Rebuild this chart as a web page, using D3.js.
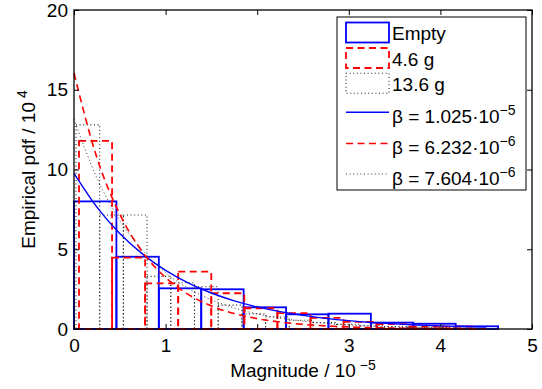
<!DOCTYPE html>
<html><head><meta charset="utf-8">
<script src="https://cdn.jsdelivr.net/npm/d3@7/dist/d3.min.js"></script>
<style>
body{margin:0;background:#fff}
svg{display:block}
text{font-family:"Liberation Sans",Arial,Helvetica,sans-serif;fill:#000}
</style>
</head><body>
<svg id="chart" width="542" height="389"></svg>
<script>
// ---- data ----
const xTicks = [0, 1, 2, 3, 4, 5];
const yTicks = [0, 5, 10, 15, 20];

// histogram bin centres (magnitude / 1e-5) and empirical pdf (/1e4)
const emptyWidth = 0.463;
const emptyCenters = [0.2315, 0.6945, 1.1575, 1.6205, 2.0835, 2.5465, 3.0095, 3.4725, 3.9355, 4.3985];
const emptyPdf = [8.0, 4.53, 2.55, 2.49, 1.36, 0.92, 0.96, 0.40, 0.33, 0.17];

const g46Width = 0.361;
const g46Centers = [0.235, 0.596, 0.957, 1.318, 1.679, 2.040, 2.401, 2.762, 3.123, 3.484, 3.845, 4.206];
const g46Pdf = [11.8, 4.47, 2.86, 3.6, 2.24, 1.3, 1.0, 0.7, 0.45, 0.3, 0.15, 0.15];

const g136Width = 0.2587;
const g136Centers = [0.151, 0.410, 0.668, 0.927, 1.186, 1.445, 1.703, 1.962, 2.221, 2.480, 2.738, 2.997, 3.256, 3.514, 3.773, 4.032, 4.291];
const g136Pdf = [12.8, 7.15, 7.15, 3.3, 2.9, 2.65, 1.5, 0.95, 0.75, 0.55, 0.4, 0.3, 0.2, 0.15, 0.12, 0.08, 0.05];

// fitted exponential pdf curves
const fitX = [0, 0.25, 0.5, 0.75, 1.0, 1.25, 1.5, 1.75, 2.0, 2.25, 2.5, 2.75, 3.0, 3.25, 3.5, 3.75, 4.0, 4.25, 4.5];
const fitEmpty = [9.756, 7.644, 5.989, 4.693, 3.677, 2.881, 2.257, 1.768, 1.386, 1.086, 0.851, 0.666, 0.522, 0.409, 0.321, 0.251, 0.197, 0.154, 0.121];
const fit46 = [16.046, 10.743, 7.193, 4.815, 3.224, 2.158, 1.445, 0.967, 0.648, 0.434, 0.290, 0.194, 0.130, 0.087, 0.058, 0.039, 0.026, 0.017, 0.012];
const fit136 = [13.151, 9.466, 6.814, 4.905, 3.530, 2.541, 1.829, 1.317, 0.948, 0.682, 0.491, 0.353, 0.254, 0.183, 0.132, 0.095, 0.068, 0.049, 0.035];

const histLabels = ["Empty", "4.6 g", "13.6 g"];
const betaMantissa = ["1.025", "6.232", "7.604"];
const betaExponent = ["\u22125", "\u22126", "\u22126"];

// ---- styles ----
const BLUE = "#0000ff", RED = "#ff0000", DOT = "#222";
const styles = [
  {stroke: BLUE, width: 1.8, dash: null},
  {stroke: RED, width: 1.8, dash: "7,4.5"},
  {stroke: DOT, width: 1.1, dash: "1,2.6"}
];

const W = 542, H = 389;
const m = {l: 74, r: 10, t: 10, b: 60};
const svg = d3.select("#chart");
const x = d3.scaleLinear().domain([0, 5]).range([m.l, W - m.r]);
const y = d3.scaleLinear().domain([0, 20]).range([H - m.b, m.t]);

const plot = svg.append("g");

// histograms
const hists = [
  {c: emptyCenters, v: emptyPdf, w: emptyWidth},
  {c: g46Centers, v: g46Pdf, w: g46Width},
  {c: g136Centers, v: g136Pdf, w: g136Width}
];
hists.forEach((h, i) => {
  const st = styles[i];
  plot.append("g").selectAll("rect")
    .data(h.c.map((c, k) => ({c, v: h.v[k]})))
    .join("rect")
    .attr("x", d => x(d.c - h.w / 2))
    .attr("y", d => y(d.v))
    .attr("width", d => x(d.c + h.w / 2) - x(d.c - h.w / 2))
    .attr("height", d => y(0) - y(d.v))
    .attr("fill", "none")
    .attr("stroke", st.stroke)
    .attr("stroke-width", st.width)
    .attr("stroke-dasharray", st.dash);
});

// fitted curves
const fits = [fitEmpty, fit46, fit136];
const line = d3.line().x(d => x(d[0])).y(d => y(d[1])).curve(d3.curveMonotoneX);
fits.forEach((f, i) => {
  const st = styles[i];
  plot.append("path")
    .datum(fitX.map((xv, k) => [xv, f[k]]))
    .attr("d", line)
    .attr("fill", "none")
    .attr("stroke", st.stroke)
    .attr("stroke-width", i === 0 ? 1.4 : st.width - 0.2)
    .attr("stroke-dasharray", st.dash);
});

// axes (ticks inward on all four sides)
const fs = 19;
const xAxis = svg.append("g").attr("transform", `translate(0,${y(0)})`)
  .call(d3.axisBottom(x).tickValues(xTicks).tickSizeInner(-5).tickSizeOuter(0).tickPadding(10).tickFormat(d3.format("d")));
const yAxis = svg.append("g").attr("transform", `translate(${x(0)},0)`)
  .call(d3.axisLeft(y).tickValues(yTicks).tickSizeInner(-5).tickSizeOuter(0).tickPadding(6).tickFormat(d3.format("d")));
const xTop = svg.append("g").attr("transform", `translate(0,${y(20)})`)
  .call(d3.axisTop(x).tickValues(xTicks).tickSizeInner(-5).tickSizeOuter(0).tickFormat(""));
const yRight = svg.append("g").attr("transform", `translate(${x(5)},0)`)
  .call(d3.axisRight(y).tickValues(yTicks).tickSizeInner(-5).tickSizeOuter(0).tickFormat(""));
[xAxis, yAxis, xTop, yRight].forEach(a => {
  a.select(".domain").remove();
  a.selectAll("line").attr("stroke", "#000").attr("stroke-width", 1);
  a.selectAll("text").attr("font-size", fs).attr("font-family", "Liberation Sans, Arial, sans-serif").attr("fill", "#000");
});

// frame
svg.append("rect")
  .attr("x", x(0)).attr("y", y(20))
  .attr("width", x(5) - x(0)).attr("height", y(0) - y(20))
  .attr("fill", "none").attr("stroke", "#000").attr("stroke-width", 1.3);

// axis labels
const xl = svg.append("text")
  .attr("x", (x(0) + x(5)) / 2).attr("y", 377)
  .attr("text-anchor", "middle").attr("font-size", fs);
xl.append("tspan").text("Magnitude / 10");
xl.append("tspan").attr("dx", 4).attr("dy", -7).attr("font-size", 14).text("\u22125");

const yl = svg.append("text")
  .attr("transform", `translate(35,${(y(0) + y(20)) / 2}) rotate(-90)`)
  .attr("text-anchor", "middle").attr("font-size", fs);
yl.append("tspan").text("Empirical pdf / 10");
yl.append("tspan").attr("dx", 4).attr("dy", -8).attr("font-size", 14).text("4");

// legend
const lg = svg.append("g");
lg.append("rect").attr("x", 337).attr("y", 17).attr("width", 189).attr("height", 173)
  .attr("fill", "#fff").attr("stroke", "#000").attr("stroke-width", 1);
const patchRows = [32.5, 58, 83.3];
histLabels.forEach((lab, i) => {
  const st = styles[i];
  lg.append("rect").attr("x", 346).attr("y", patchRows[i] - 10).attr("width", 43).attr("height", 20)
    .attr("fill", "none").attr("stroke", st.stroke).attr("stroke-width", st.width)
    .attr("stroke-dasharray", st.dash);
  lg.append("text").attr("x", 392).attr("y", patchRows[i] + 7.5).attr("font-size", fs).text(lab);
});
const lineRows = [112.3, 143.5, 174];
betaMantissa.forEach((mant, i) => {
  const st = styles[i];
  lg.append("line").attr("x1", 346).attr("x2", 389).attr("y1", lineRows[i]).attr("y2", lineRows[i])
    .attr("stroke", st.stroke).attr("stroke-width", i === 0 ? 1.4 : st.width - 0.2)
    .attr("stroke-dasharray", st.dash);
  const t = lg.append("text").attr("x", 392).attr("y", lineRows[i] + 10.5).attr("font-size", fs);
  t.append("tspan").text("\u03B2 = " + mant + "\u00B710");
  t.append("tspan").attr("dy", -8).attr("font-size", 14).text(betaExponent[i]);
});
</script>
</body></html>
